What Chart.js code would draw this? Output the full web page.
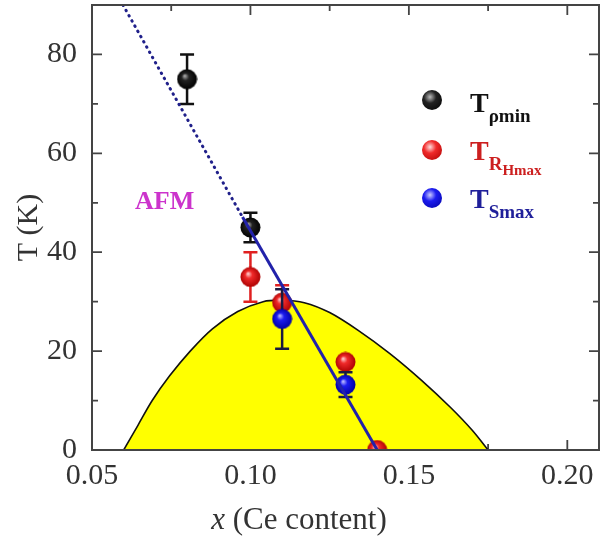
<!DOCTYPE html>
<html>
<head>
<meta charset="utf-8">
<script src="https://cdn.jsdelivr.net/npm/chart.js@4.4.1/dist/chart.umd.min.js"></script>
<style>
  body { margin: 0; background: #fff; }
  #wrap { position: relative; width: 604px; height: 542px; font-family: "Liberation Serif", "Times New Roman", serif; }
  #wrap canvas { position: absolute; left: 0; top: 0; }
  .lbl { position: absolute; font-weight: bold; font-size: 28px; line-height: 28px; white-space: nowrap; }
  .lbl .s1 { font-size: 19px; position: relative; top: 10px; }
  .lbl .s2 { font-size: 15px; position: relative; top: 5px; }
  .ball { position: absolute; width: 20px; height: 20px; border-radius: 50%; }
  .xtitle { position: absolute; left: 0; width: 598px; top: 502px; text-align: center; font-size: 31px; line-height: 34px; color: #333; }
  .afm { position: absolute; left: 135px; top: 188px; font-size: 26px; line-height: 26px; font-weight: bold; color: #cc33cc; }
</style>
</head>
<body>
<div id="wrap">
  <canvas id="phaseChart" width="604" height="542"></canvas>
  <div class="afm">AFM</div>
  <div class="ball" style="left:422px; top:90px; background: radial-gradient(circle at 40% 35%, #bbb 0%, #222 35%, #000 100%);"></div>
  <div class="ball" style="left:422px; top:140px; background: radial-gradient(circle at 40% 35%, #fdd 0%, #f02a2a 35%, #a00 100%);"></div>
  <div class="ball" style="left:422px; top:188px; background: radial-gradient(circle at 40% 35%, #ccf 0%, #1c1cf0 35%, #0000a0 100%);"></div>
  <div class="lbl" style="left:470px; top:89px; color:#111;">T<span class="s1">ρmin</span></div>
  <div class="lbl" style="left:470px; top:137px; color:#cc1f1f;">T<span class="s1">R<span class="s2">Hmax</span></span></div>
  <div class="lbl" style="left:470px; top:185px; color:#1f1f9a;">T<span class="s1">Smax</span></div>
  <div class="xtitle"><i>x</i> (Ce content)</div>
</div>
<script>
  // axis ticks
  const xTicks = [0.05, 0.10, 0.15, 0.20];
  const xMinor = [0.075, 0.125, 0.175];
  const yTicks = [0, 20, 40, 60, 80];
  const yMinor = [10, 30, 50, 70];

  // measured points
  const blackX = [0.08, 0.10];
  const blackT = [75, 45];
  const blackErr = [5, 3];

  const redX = [0.10, 0.11, 0.13, 0.14];
  const redT = [35, 29.8, 17.8, 0];
  const redErr = [5, 3.5, 0, 0];

  const blueX = [0.11, 0.13];
  const blueT = [26.5, 13.2];
  const blueErr = [6, 2.5];

  // superconducting dome
  const domeX = [0.060, 0.0645, 0.069, 0.0745, 0.081, 0.088, 0.096, 0.104, 0.110, 0.117, 0.125, 0.134, 0.144, 0.154, 0.163, 0.170, 0.175];
  const domeT = [0, 5, 10, 15, 20, 24.5, 28, 30, 30.3, 29.8, 27.8, 24.2, 19.5, 14.1, 8.7, 4.0, 0];

  // linear fit line (solid part and dotted extrapolation)
  const fitX = [0.0975, 0.140];
  const fitT = [47.1, 0];
  const extX = [0.0598, 0.0975];
  const extT = [90, 47.1];

  const FONT = '"Liberation Serif", "Times New Roman", serif';

  function toXY(xs, ys) {
    return xs.map((x, i) => ({ x: x, y: ys[i] }));
  }

  function makeBall(base, light, dark) {
    const c = document.createElement('canvas');
    c.width = 21; c.height = 21;
    const g = c.getContext('2d');
    const grad = g.createRadialGradient(8, 7, 0, 10.5, 10.5, 10.5);
    grad.addColorStop(0, light);
    grad.addColorStop(0.35, base);
    grad.addColorStop(1, dark);
    g.fillStyle = grad;
    g.beginPath();
    g.arc(10.5, 10.5, 10, 0, Math.PI * 2);
    g.fill();
    return c;
  }

  const errorBars = {
    id: 'errorBars',
    beforeDatasetDraw(chart, args) {
      const ds = chart.data.datasets[args.index];
      if (!ds.errors) return;
      const { ctx, scales: { x, y } } = chart;
      ctx.save();
      ctx.strokeStyle = ds.errorColor;
      ctx.lineWidth = 2.5;
      ds.data.forEach((p, i) => {
        const e = ds.errors[i];
        if (!e) return;
        const px = x.getPixelForValue(p.x);
        const hi = y.getPixelForValue(p.y + e);
        const lo = y.getPixelForValue(p.y - e);
        ctx.beginPath();
        ctx.moveTo(px, hi); ctx.lineTo(px, lo);
        ctx.moveTo(px - 7, hi); ctx.lineTo(px + 7, hi);
        ctx.moveTo(px - 7, lo); ctx.lineTo(px + 7, lo);
        ctx.stroke();
      });
      ctx.restore();
    }
  };

  const frameTicks = {
    id: 'frameTicks',
    beforeDatasetsDraw(chart) {
      const { ctx, chartArea: a, scales: { x, y } } = chart;
      ctx.save();
      ctx.strokeStyle = '#444';
      ctx.lineWidth = 1.8;
      ctx.beginPath();
      const tx = (v, len) => {
        const p = x.getPixelForValue(v);
        ctx.moveTo(p, a.bottom); ctx.lineTo(p, a.bottom - len);
        ctx.moveTo(p, a.top); ctx.lineTo(p, a.top + len);
      };
      const ty = (v, len) => {
        const p = y.getPixelForValue(v);
        ctx.moveTo(a.left, p); ctx.lineTo(a.left + len, p);
        ctx.moveTo(a.right, p); ctx.lineTo(a.right - len, p);
      };
      xTicks.forEach(v => tx(v, 10));
      xMinor.forEach(v => tx(v, 6));
      yTicks.forEach(v => ty(v, 10));
      yMinor.forEach(v => ty(v, 6));
      ctx.stroke();
      ctx.restore();
    },
    afterDatasetsDraw(chart) {
      const { ctx, chartArea: a } = chart;
      ctx.save();
      ctx.strokeStyle = '#444';
      ctx.lineWidth = 2;
      ctx.strokeRect(a.left, a.top, a.right - a.left, a.bottom - a.top);
      ctx.restore();
    }
  };

  new Chart(document.getElementById('phaseChart'), {
    type: 'scatter',
    data: {
      datasets: [
        {
          label: 'SC dome',
          type: 'line',
          data: toXY(domeX, domeT),
          borderColor: '#111',
          borderWidth: 1.6,
          backgroundColor: '#ffff00',
          fill: 'origin',
          tension: 0.3,
          pointRadius: 0,
          order: 10
        },
        {
          label: 'T_rho_min',
          data: toXY(blackX, blackT),
          errors: blackErr,
          errorColor: '#111',
          pointStyle: makeBall('#222', '#bbb', '#000'),
          clip: 0,
          order: 4
        },
        {
          label: 'T_RHmax',
          data: toXY(redX, redT),
          errors: redErr,
          errorColor: '#e02020',
          pointStyle: makeBall('#f02a2a', '#fdd', '#a00'),
          clip: 0,
          order: 3
        },
        {
          label: 'T_Smax',
          data: toXY(blueX, blueT),
          errors: blueErr,
          errorColor: '#1a1a40',
          pointStyle: makeBall('#1c1cf0', '#ccf', '#0000a0'),
          clip: 0,
          order: 2
        },
        {
          label: 'fit',
          type: 'line',
          data: toXY(fitX, fitT),
          borderColor: '#2222aa',
          borderWidth: 3,
          pointRadius: 0,
          fill: false,
          order: 1
        },
        {
          label: 'extrapolation',
          type: 'line',
          data: toXY(extX, extT),
          borderColor: '#20208a',
          borderWidth: 3,
          borderDash: [0.5, 5.5],
          borderCapStyle: 'round',
          pointRadius: 0,
          fill: false,
          clip: 0,
          order: 1
        }
      ]
    },
    options: {
      responsive: false,
      animation: false,
      layout: { padding: { top: 4, right: 4, left: 0, bottom: 0 } },
      plugins: {
        legend: { display: false },
        tooltip: { enabled: false }
      },
      scales: {
        x: {
          type: 'linear',
          min: 0.05,
          max: 0.21,
          grid: { display: false, drawTicks: false },
          border: { display: false },
          afterBuildTicks: s => { s.ticks = xTicks.map(v => ({ value: v })); },
          afterFit: s => { s.height = 92; s.paddingLeft = 0; s.paddingRight = 0; },
          ticks: {
            padding: 8,
            color: '#333',
            maxRotation: 0,
            font: { family: FONT, size: 30 },
            callback: v => Number(v).toFixed(2)
          }
        },
        y: {
          type: 'linear',
          min: 0,
          max: 90,
          grid: { display: false, drawTicks: false },
          border: { display: false },
          afterBuildTicks: s => { s.ticks = yTicks.map(v => ({ value: v })); },
          afterFit: s => { s.width = 92; s.paddingTop = 0; s.paddingBottom = 0; },
          ticks: {
            padding: 15,
            color: '#333',
            font: { family: FONT, size: 30 }
          },
          title: {
            display: true,
            text: 'T (K)',
            color: '#333',
            font: { family: FONT, size: 30 },
            padding: { top: 11, bottom: 0 }
          }
        }
      }
    },
    plugins: [errorBars, frameTicks]
  });
</script>
</body>
</html>
